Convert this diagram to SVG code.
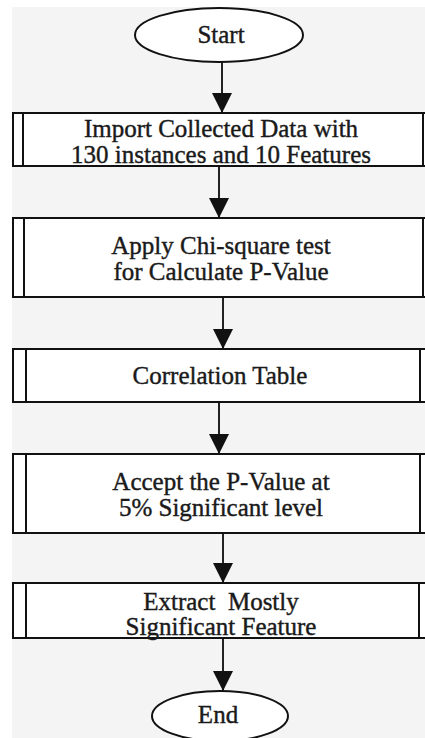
<svg xmlns="http://www.w3.org/2000/svg" width="425" height="738" viewBox="0 0 425 738">
<style>
.box{fill:#ffffff;stroke:#111;stroke-width:2}
.inner{stroke:#111;stroke-width:2}
.term{fill:#ffffff;stroke:#111;stroke-width:2}
.lbl{font-family:"Liberation Serif","Times New Roman",serif;font-size:25px;fill:#1a1a1a;stroke:#1a1a1a;stroke-width:0.4;text-anchor:middle;white-space:pre}
.conn{stroke:#222;stroke-width:2;fill:none}
</style>
<defs>
<marker id="ah" markerUnits="userSpaceOnUse" markerWidth="20" markerHeight="20" viewBox="0 0 20 20" refX="20" refY="10" orient="auto">
<path d="M0,0 L20,10 L0,20 Z" fill="#111"/>
</marker>
</defs>
<rect x="0" y="0" width="425" height="738" fill="#ffffff"/>
<rect x="12" y="7" width="413" height="731" fill="#f4f4f4"/>

<g id="connectors">
<line class="conn" x1="222" y1="62" x2="222" y2="113" marker-end="url(#ah)"/>
<line class="conn" x1="219" y1="166" x2="219" y2="218" marker-end="url(#ah)"/>
<line class="conn" x1="223" y1="297" x2="223" y2="349" marker-end="url(#ah)"/>
<line class="conn" x1="219" y1="402" x2="219" y2="454" marker-end="url(#ah)"/>
<line class="conn" x1="223" y1="533" x2="223" y2="583" marker-end="url(#ah)"/>
<line class="conn" x1="223" y1="638" x2="223" y2="691" marker-end="url(#ah)"/>
</g>

<g id="start">
<ellipse class="term" cx="219" cy="35" rx="84" ry="27"/>
<text class="lbl" x="221" y="43">Start</text>
</g>

<g id="import">
<rect class="box" x="13" y="113" width="420" height="53"/>
<line class="inner" x1="23" y1="113" x2="23" y2="166"/>
<line class="inner" x1="423" y1="113" x2="423" y2="166"/>
<text class="lbl" x="221" y="137">Import Collected Data with</text>
<text class="lbl" x="221" y="163">130 instances and 10 Features</text>
</g>

<g id="chisq">
<rect class="box" x="13" y="218" width="420" height="79"/>
<line class="inner" x1="24" y1="218" x2="24" y2="297"/>
<line class="inner" x1="423" y1="218" x2="423" y2="297"/>
<text class="lbl" x="221" y="254">Apply Chi-square test</text>
<text class="lbl" x="221" y="280">for Calculate P-Value</text>
</g>

<g id="corr">
<rect class="box" x="13" y="349" width="420" height="53"/>
<line class="inner" x1="26" y1="349" x2="26" y2="402"/>
<line class="inner" x1="420" y1="349" x2="420" y2="402"/>
<text class="lbl" x="220" y="384">Correlation Table</text>
</g>

<g id="accept">
<rect class="box" x="13" y="454" width="420" height="79"/>
<line class="inner" x1="26" y1="454" x2="26" y2="533"/>
<line class="inner" x1="420" y1="454" x2="420" y2="533"/>
<text class="lbl" x="221" y="490">Accept the P-Value at</text>
<text class="lbl" x="221" y="516">5% Significant level</text>
</g>

<g id="extract">
<rect class="box" x="13" y="583" width="420" height="55"/>
<line class="inner" x1="26" y1="583" x2="26" y2="638"/>
<line class="inner" x1="419" y1="583" x2="419" y2="638"/>
<text class="lbl" x="221" y="610" xml:space="preserve">Extract  Mostly</text>
<text class="lbl" x="221" y="635">Significant Feature</text>
</g>

<g id="end">
<ellipse class="term" cx="220" cy="716" rx="68" ry="25"/>
<text class="lbl" x="218" y="723">End</text>
</g>
</svg>
